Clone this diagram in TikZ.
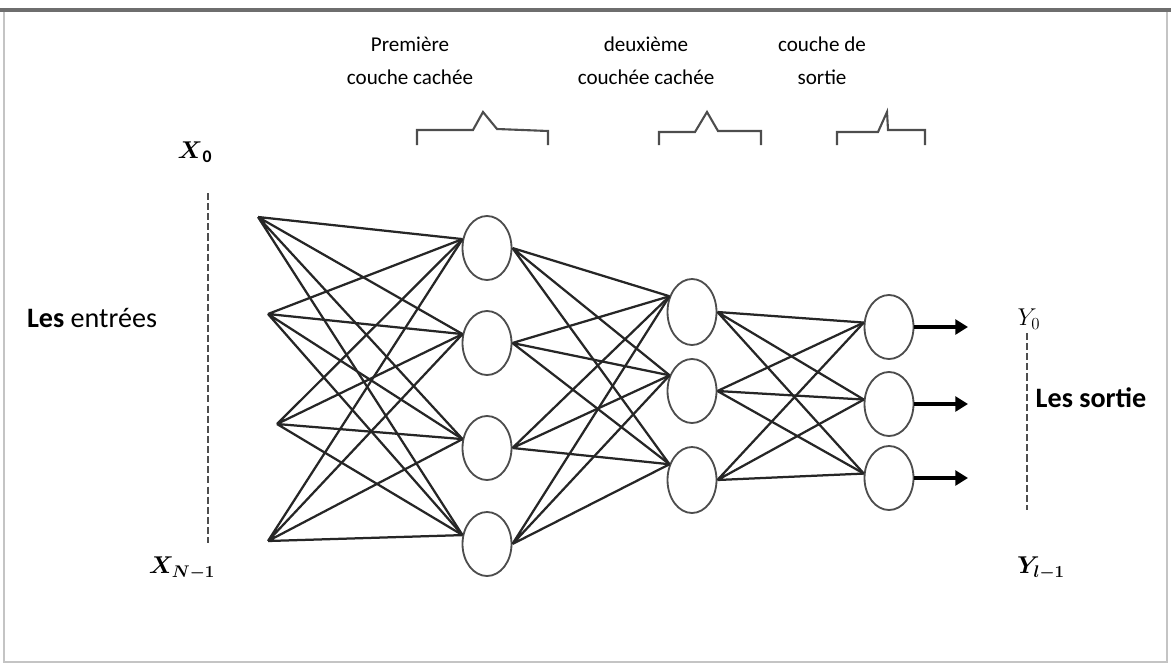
\documentclass[tikz,border=0pt]{standalone}
\usepackage{amsmath}
\usepackage{fontspec}
\setmainfont{Carlito}
\usepackage{tikz}
\usetikzlibrary{arrows.meta,shapes.geometric}
\definecolor{ink}{HTML}{262626}
\definecolor{rim}{HTML}{4D4D4D}
\definecolor{framegray}{HTML}{C4C4C4}
\definecolor{topbar}{HTML}{6E6E6E}
\tikzset{
  neuron/.style ={ellipse, draw=rim, line width=1.3pt, fill=white, inner sep=0pt,
                  minimum width=12.25mm, minimum height=16mm},
  link/.style   ={draw=ink, line width=1.6pt},
  outarr/.style ={draw=black, line width=2.2pt, -{Triangle[length=9pt,width=10.5pt]}},
  dotline/.style={draw=rim, line width=1.7pt, dash pattern=on 5pt off 2.2pt},
  brk/.style    ={draw=rim, line width=1.5pt, line join=miter},
  head/.style   ={font=\fontsize{15}{23.5}\selectfont, text=black, align=center, inner sep=0pt},
  side/.style   ={font=\fontsize{20}{24}\selectfont, text=black, inner sep=0pt},
  var/.style    ={font=\fontsize{18}{22}\selectfont, text=black, inner sep=0pt},
}

\begin{document}
\begin{tikzpicture}[x=0.25mm,y=-0.25mm]
  \useasboundingbox (0,0) rectangle (1171,664);
  \draw[framegray, line width=0.9pt] (4,10) rectangle (1167,662);
  \draw[topbar, line width=2.4pt] (0,10) -- (1171,10);
  % layer titles and their brackets
  \node[head] (t1) at (410,61) {Première\\couche cachée};
  \node[head] (t2) at (646,61) {deuxième\\couchée cachée};
  \node[head] (t3) at (822,61) {couche de\\sortie};
  \draw[brk] (417,145) -- (417,130) -- (473,130) -- (483,112) -- (497,129) -- (548,131) -- (548,145);
  \draw[brk] (659,145) -- (659,132) -- (695,132) -- (707,112) -- (718,131) -- (761,131) -- (761,145);
  \draw[brk] (837,145) -- (837,132) -- (878,132) -- (887,112) -- (888,130) -- (925,130) -- (925,145);
  % inputs
  \node[var] (x0) at (195,152) {$\boldsymbol{X}_{\mathbf{0}}$};
  \node[var] (xn) at (182,568) {$\boldsymbol{X_{N-1}}$};
  \node[side] (lin) at (92,318) {\bfseries Les \mdseries entrées};
  \coordinate (d1) at (208,193);
  \coordinate (d2) at (208,543);
  \draw[dotline] (d1) -- (d2);
  \coordinate (i1) at (258,217);
  \coordinate (i2) at (268,314);
  \coordinate (i3) at (277,424);
  \coordinate (i4) at (268,541);
  % neurons
  \node[neuron] (h1a) at (487,248) {};
  \node[neuron] (h1b) at (487,343) {};
  \node[neuron] (h1c) at (487,448) {};
  \node[neuron] (h1d) at (487,544) {};
  \node[neuron, minimum height=16.5mm] (h2a) at (692,312) {};
  \node[neuron] (h2b) at (692,391) {};
  \node[neuron, minimum height=16.5mm] (h2c) at (692,480) {};
  \node[neuron] (o1) at (889,327) {};
  \node[neuron] (o2) at (889,404) {};
  \node[neuron] (o3) at (889,478) {};
  % full connections
  \draw[link] (i1) -- (h1a.160) (i1) -- (h1b.160) (i1) -- (h1c.160) (i1) -- (h1d.160);
  \draw[link] (i2) -- (h1a.160) (i2) -- (h1b.160) (i2) -- (h1c.160) (i2) -- (h1d.160);
  \draw[link] (i3) -- (h1a.160) (i3) -- (h1b.160) (i3) -- (h1c.160) (i3) -- (h1d.160);
  \draw[link] (i4) -- (h1a.160) (i4) -- (h1b.160) (i4) -- (h1c.160) (i4) -- (h1d.160);
  \draw[link] (h1a.east) -- (h2a.145) (h1a.east) -- (h2b.145) (h1a.east) -- (h2c.145);
  \draw[link] (h1b.east) -- (h2a.145) (h1b.east) -- (h2b.145) (h1b.east) -- (h2c.145);
  \draw[link] (h1c.east) -- (h2a.145) (h1c.east) -- (h2b.145) (h1c.east) -- (h2c.145);
  \draw[link] (h1d.east) -- (h2a.145) (h1d.east) -- (h2b.145) (h1d.east) -- (h2c.145);
  \draw[link] (h2a.east) -- (o1.170) (h2a.east) -- (o2.170) (h2a.east) -- (o3.170);
  \draw[link] (h2b.east) -- (o1.170) (h2b.east) -- (o2.170) (h2b.east) -- (o3.170);
  \draw[link] (h2c.east) -- (o1.170) (h2c.east) -- (o2.170) (h2c.east) -- (o3.170);
  % outputs
  \coordinate (y1) at (968,327);
  \coordinate (y2) at (968,404);
  \coordinate (y3) at (968,478);
  \draw[outarr] (o1.east) -- (y1);
  \draw[outarr] (o2.east) -- (y2);
  \draw[outarr] (o3.east) -- (y3);
  \node[var] (y0) at (1029,319) {$Y_0$};
  \node[var] (yl) at (1041,568) {$\boldsymbol{Y_{l-1}}$};
  \node[side] (lout) at (1091,398) {\bfseries Les sortie};
  \coordinate (e1) at (1027,333);
  \coordinate (e2) at (1027,510);
  \draw[dotline] (e1) -- (e2);
\end{tikzpicture}
\end{document}
